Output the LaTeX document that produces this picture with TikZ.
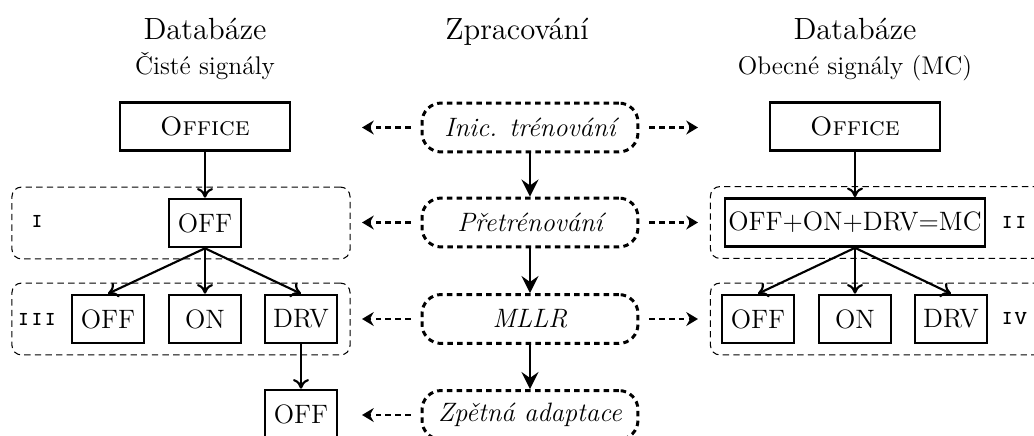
\documentclass[tikz,border=0pt]{standalone}
\usetikzlibrary{arrows.meta}
\newcommand{\boxfont}{\fontsize{12.5}{15}\selectfont}
\begin{document}
\begin{tikzpicture}[x=0.47pt,y=-0.47pt,
  box/.style={draw, line width=1.2pt, minimum width=33.8pt, minimum height=22.6pt,
    inner xsep=1.5pt, inner ysep=3.3pt, font=\boxfont},
  proc/.style={draw, line width=1.4pt, dash pattern=on 2.6pt off 2pt, rounded corners=9pt,
    minimum width=101.5pt, minimum height=23pt, font=\boxfont\itshape},
  grp/.style={draw, line width=0.5pt, dash pattern=on 3pt off 2pt, rounded corners=4.5pt,
    minimum width=158.9pt, minimum height=33.8pt, inner sep=0pt},
  tree/.style={-{To[length=4.5pt,width=7.5pt]}, line width=1pt},
  flow/.style={-{Stealth[length=8pt,width=8pt,inset=2.8pt]}, line width=1.4pt},
  side/.style={-{Stealth[length=5.5pt,width=6.5pt,inset=1.8pt]}, line width=1.4pt,
    dash pattern=on 2.6pt off 2pt, shorten <=4.7pt},
  lbl/.style={font=\large\ttfamily\scshape},
  head/.style={anchor=base, font=\Large},
  sub/.style={anchor=base, font=\large},
]
\useasboundingbox (0,0) rectangle (1034,435);

% dashed groups
\node[grp] (gI)   at (181,223) {};
\node[grp] (gIII) at (181,319) {};
\node[grp] (gII)  at (879.5,222.5) {};
\node[grp] (gIV)  at (879.5,319) {};
\node[lbl] (lI)   at (37,221) {i};
\node[lbl] (lIII) at (37,319) {iii};
\node[lbl] (lII)  at (1014,222) {ii};
\node[lbl] (lIV)  at (1014,319) {iv};

% column headings
\node[head] (h1) at (205,39) {Databáze};
\node[sub]  (s1) at (205,74) {Čisté signály};
\node[head] (h2) at (517,39) {Zpracování};
\node[head] (h3) at (855,39) {Databáze};
\node[sub]  (s3) at (855,74) {Obecné signály (MC)};

% clean signals
\node[box, minimum width=79.9pt] (lofc) at (205,126.5) {\textsc{Office}};
\node[box] (loff) at (205,223) {OFF};
\node[box] (la) at (108,319) {OFF};
\node[box] (lb) at (205,319) {ON};
\node[box] (lc) at (301,319) {DRV};
\node[box] (ld) at (301,414) {OFF};

% general signals
\node[box, minimum width=79.9pt] (rofc) at (855,126.5) {\textsc{Office}};
\node[box] (rmc) at (855,222.5) {OFF+ON+DRV=MC};
\node[box] (ra) at (758,319) {OFF};
\node[box] (rb) at (855,319) {ON};
\node[box] (rc) at (951,319) {DRV};

% processing steps
\node[proc] (p1) at (530,127.5) {Inic. trénování};
\node[proc] (p2) at (530,222.5) {Přetrénování};
\node[proc] (p3) at (530,319) {MLLR};
\node[proc] (p4) at (530,415) {Zpětná adaptace};

% tree connections
\draw[tree] (lofc) -- (loff);
\draw[tree] (loff.south) -- (la.north);
\draw[tree] (loff.south) -- (lb.north);
\draw[tree] (loff.south) -- (lc.north);
\draw[tree] (lc) -- (ld);
\draw[tree] (rofc) -- (rmc);
\draw[tree] (rmc.south) -- (ra.north);
\draw[tree] (rmc.south) -- (rb.north);
\draw[tree] (rmc.south) -- (rc.north);

% processing flow
\draw[flow] (p1) -- (p2);
\draw[flow] (p2) -- (p3);
\draw[flow] (p3) -- (p4);

% side arrows
\coordinate (l1) at (362,127.5);
\coordinate (l2) at (362,222.5);
\coordinate (l3) at (362,319);
\coordinate (l4) at (362,415);
\coordinate (r1) at (698,127.5);
\coordinate (r2) at (698,222.5);
\coordinate (r3) at (698,319);
\draw[side] (p1.west) -- (l1);
\draw[side] (p2.west) -- (l2);
\draw[side] (p3.west) -- (l3);
\draw[side] (p4.west) -- (l4);
\draw[side] (p1.east) -- (r1);
\draw[side] (p2.east) -- (r2);
\draw[side] (p3.east) -- (r3);
\end{tikzpicture}
\end{document}
